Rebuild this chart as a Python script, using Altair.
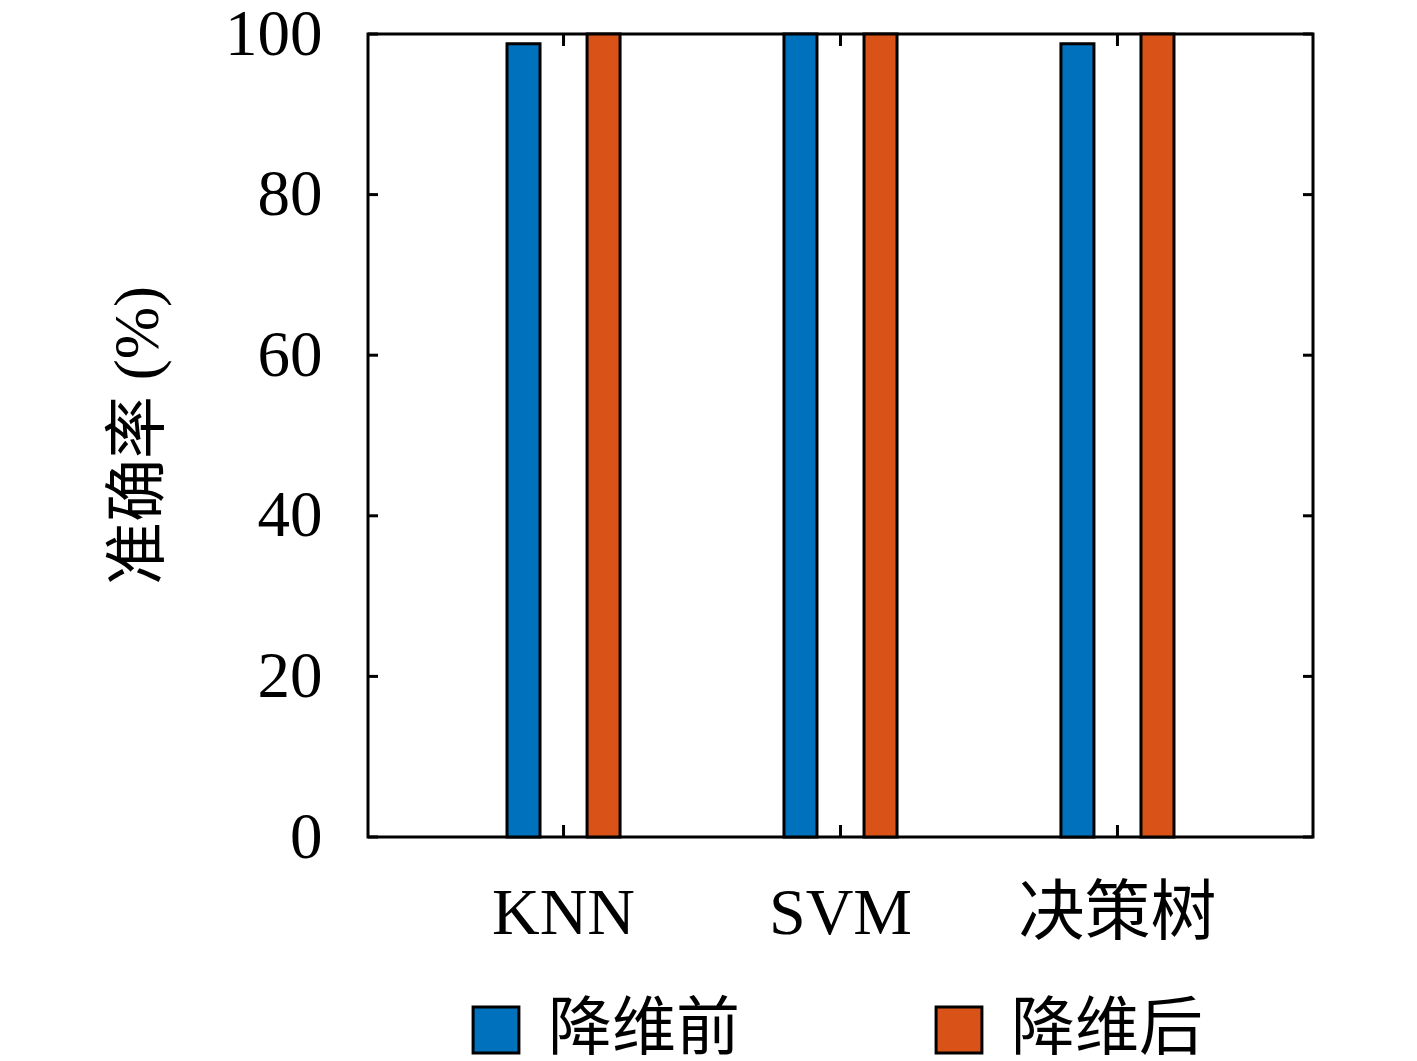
import altair as alt
import pandas as pd

models = ["KNN", "SVM", "决策树"]
series = ["降维前", "降维后"]
before = [98.8, 100, 98.8]
after = [100, 100, 100]
y_ticks = [0, 20, 40, 60, 80, 100]
colors = ["#0072BD", "#D95319"]

FONT = "Liberation Serif, Noto Sans CJK SC"

rows = []
for m, b, a in zip(models, before, after):
    rows.append({"model": m, "series": series[0], "acc": b})
    rows.append({"model": m, "series": series[1], "acc": a})
df = pd.DataFrame(rows)
ydf = pd.DataFrame({"acc": y_ticks})
xdf = pd.DataFrame({"model": models})

xscale = alt.Scale(domain=models, paddingInner=0, paddingOuter=0.206)
yscale = alt.Scale(domain=[0, 100], nice=False)

ax_x = alt.Axis(domain=False, ticks=False, labelAngle=0, labelFont=FONT,
                labelFontSize=66, labelPadding=44, labelColor="black",
                labelLimit=500, title=None)
ax_y = alt.Axis(domain=False, ticks=False, grid=False, values=y_ticks,
                labelFont=FONT, labelFontSize=65, labelPadding=46, labelColor="black",
                title="准确率 (%)", titleFont=FONT, titleFontSize=63,
                titleFontWeight="normal", titleColor="black",
                titleX=-230, titleY=401, titleAngle=270, titleAlign="center",
                titleBaseline="middle")

bars = alt.Chart(df).mark_bar(size=33, stroke="black", strokeWidth=3, opacity=1).encode(
    x=alt.X("model:N", scale=xscale, axis=ax_x, sort=models),
    xOffset=alt.XOffset("series:N", sort=series,
                        scale=alt.Scale(domain=series, paddingInner=0, paddingOuter=0.73)),
    y=alt.Y("acc:Q", scale=yscale, axis=ax_y),
    color=alt.Color("series:N", sort=series,
                    scale=alt.Scale(domain=series, range=colors),
                    legend=alt.Legend(orient="none", legendX=96, legendY=964,
                                      direction="horizontal", columns=2,
                                      columnPadding=187, title=None,
                                      symbolType="square", symbolSize=2100,
                                      symbolStrokeColor="black", symbolStrokeWidth=3,
                                      symbolOpacity=1,
                                      labelFont=FONT, labelFontSize=64,
                                      labelColor="black", labelOffset=20,
                                      labelLimit=400, padding=0)),
)

tick_style = dict(thickness=3, color="black", opacity=1)
ytick_l = alt.Chart(ydf).mark_tick(orient="horizontal", size=10, **tick_style).encode(
    y=alt.Y("acc:Q", scale=yscale, axis=ax_y), x=alt.value(5))
ytick_r = alt.Chart(ydf).mark_tick(orient="horizontal", size=10, **tick_style).encode(
    y=alt.Y("acc:Q", scale=yscale, axis=ax_y), x=alt.value(940))
xtick_b = alt.Chart(xdf).mark_tick(orient="vertical", size=12, **tick_style).encode(
    x=alt.X("model:N", scale=xscale, axis=ax_x, sort=models), y=alt.value(797))
xtick_t = alt.Chart(xdf).mark_tick(orient="vertical", size=12, **tick_style).encode(
    x=alt.X("model:N", scale=xscale, axis=ax_x, sort=models), y=alt.value(6))

chart = alt.layer(bars, ytick_l, ytick_r, xtick_b, xtick_t).properties(
    width=945, height=803,
    autosize=alt.AutoSizeParams(type="none"),
    padding={"left": 360, "top": 26, "right": 90, "bottom": 226},
).configure(
    background="white", font=FONT
).configure_view(stroke="black", strokeWidth=3, fill="white")

chart.save("out.html", embed_options={"renderer": "svg", "actions": False})
